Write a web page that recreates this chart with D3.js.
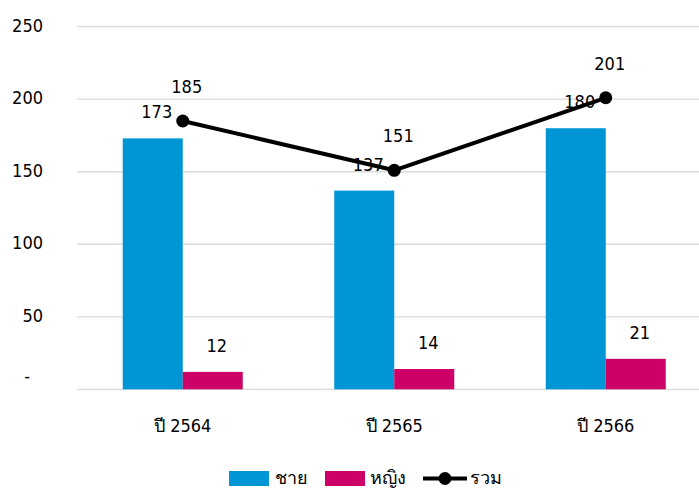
<!DOCTYPE html>
<html><head><meta charset="utf-8">
<script src="https://cdn.jsdelivr.net/npm/d3@7"></script>
<style>
html,body{margin:0;padding:0;background:#fff;}
text{font-family:"DejaVu Sans Condensed","DejaVu Sans",Tahoma,sans-serif;font-size:18px;fill:#000;}
</style></head><body>
<svg id="c" width="699" height="489"></svg>
<script>
const categories = ["ปี 2564","ปี 2565","ปี 2566"];
const male = [173,137,180];
const female = [12,14,21];
const total = [185,151,201];
const yTicks = [0,50,100,150,200,250];
const seriesNames = ["ชาย","หญิง","รวม"];
const colors = {male:"#0095d5", female:"#cc0066", total:"#000000"};

const svg = d3.select("#c");
const pLeft = 77, pRight = 711.5, pTop = 26.7, pBottom = 389.3;
const x = d3.scaleBand().domain(categories).range([pLeft,pRight]).padding(0);
const y = d3.scaleLinear().domain([0,250]).range([pBottom,pTop]);
const barW = 60;

// gridlines
svg.append("g").selectAll("line").data(yTicks).join("line")
  .attr("x1",pLeft).attr("x2",699).attr("y1",d=>y(d)).attr("y2",d=>y(d))
  .attr("stroke","#d9d9d9").attr("stroke-width",1.3);

// y labels
svg.append("g").selectAll("text").data(yTicks).join("text")
  .attr("x",d=>d===0?30:43).attr("y",d=>d===0?y(d)-7:y(d)+5)
  .attr("text-anchor","end")
  .text(d=>d===0?"-":d3.format("d")(d));

const cx = c => x(c)+x.bandwidth()/2;

// bars
svg.append("g").selectAll("rect").data(categories).join("rect")
  .attr("x",c=>cx(c)-barW).attr("width",barW)
  .attr("y",(c,i)=>y(male[i])).attr("height",(c,i)=>y(0)-y(male[i]))
  .attr("fill",colors.male);
svg.append("g").selectAll("rect").data(categories).join("rect")
  .attr("x",c=>cx(c)).attr("width",barW)
  .attr("y",(c,i)=>y(female[i])).attr("height",(c,i)=>y(0)-y(female[i]))
  .attr("fill",colors.female);

// bar labels
svg.append("g").selectAll("text").data(categories).join("text")
  .attr("x",c=>cx(c)-barW/2+4).attr("y",(c,i)=>y(male[i])-20)
  .attr("text-anchor","middle").text((c,i)=>male[i]);
svg.append("g").selectAll("text").data(categories).join("text")
  .attr("x",c=>cx(c)+barW/2+4).attr("y",(c,i)=>y(female[i])-20)
  .attr("text-anchor","middle").text((c,i)=>female[i]);

// line
const line = d3.line().x((d,i)=>cx(categories[i])).y(d=>y(d));
svg.append("path").datum(total).attr("d",line)
  .attr("fill","none").attr("stroke",colors.total).attr("stroke-width",4).attr("stroke-linejoin","round");
svg.append("g").selectAll("circle").data(total).join("circle")
  .attr("cx",(d,i)=>cx(categories[i])).attr("cy",d=>y(d)).attr("r",6.5).attr("fill",colors.total);
svg.append("g").selectAll("text").data(total).join("text")
  .attr("x",(d,i)=>cx(categories[i])+4).attr("y",d=>y(d)-28)
  .attr("text-anchor","middle").text(d=>d);

// x labels
svg.append("g").selectAll("text").data(categories).join("text")
  .attr("x",c=>cx(c)).attr("y",432).attr("text-anchor","middle").text(c=>c);

// legend
const lg = svg.append("g");
const ly = 471, lb = 484;
lg.append("rect").attr("x",229).attr("y",ly).attr("width",40).attr("height",15).attr("fill",colors.male);
lg.append("text").attr("x",275).attr("y",lb).text(seriesNames[0]);
lg.append("rect").attr("x",325).attr("y",ly).attr("width",40).attr("height",15).attr("fill",colors.female);
lg.append("text").attr("x",370).attr("y",lb).text(seriesNames[1]);
lg.append("line").attr("x1",423).attr("x2",467).attr("y1",ly+7.5).attr("y2",ly+7.5).attr("stroke","#000").attr("stroke-width",4);
lg.append("circle").attr("cx",445).attr("cy",ly+7.5).attr("r",6.5).attr("fill","#000");
lg.append("text").attr("x",470).attr("y",lb).text(seriesNames[2]);
</script></body></html>
